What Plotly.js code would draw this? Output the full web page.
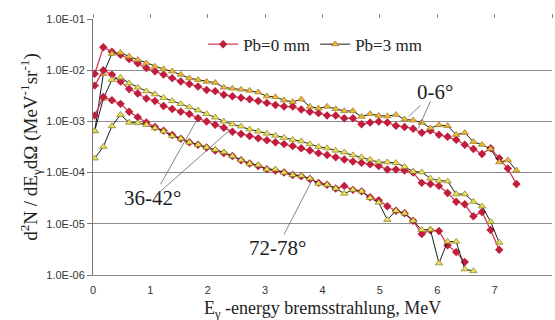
<!DOCTYPE html>
<html>
<head>
<meta charset="utf-8">
<script src="https://cdn.plot.ly/plotly-3.0.1.min.js"></script>
<style>
html,body{margin:0;padding:0;background:#fff;}
#chart{width:555px;height:320px;}
#chart text.legendtext, #chart .annotation-text, #chart text.ytitle, #chart .annotation text {
  font-family: "Liberation Serif", "Times New Roman", Tinos, "DejaVu Serif", serif !important;
}
#chart .xtick text, #chart .ytick text {
  font-family: "Liberation Sans", Arial, sans-serif !important;
}
</style>
</head>
<body>
<div id="chart"></div>
<script>
// Photon energy grid (MeV)
const energy = [0.03,0.18,0.33,0.48,0.63,0.78,0.93,1.08,1.23,1.38,1.53,1.68,1.83,1.98,2.13,2.28,2.43,2.58,2.73,2.88,3.03,3.18,3.33,3.48,3.63,3.78,3.93,4.08,4.23,4.38,4.53,4.68,4.83,4.98,5.13,5.28,5.43,5.58,5.73,5.88,6.03,6.18,6.33,6.48,6.63,6.78,6.93,7.08,7.23,7.38];

// 0-6 degrees
const pb0_a0_6 = [8.5e-3,2.8e-2,2.3e-2,2.0e-2,1.65e-2,1.37e-2,1.1e-2,9.5e-3,8.2e-3,7.0e-3,6.0e-3,5.4e-3,4.8e-3,4.1e-3,3.9e-3,3.3e-3,3.1e-3,2.9e-3,2.7e-3,2.5e-3,2.3e-3,2.1e-3,1.95e-3,1.95e-3,1.7e-3,1.55e-3,1.45e-3,1.3e-3,1.3e-3,1.15e-3,1.15e-3,8.8e-4,9.5e-4,1.0e-3,9.5e-4,8.2e-4,7.8e-4,7.2e-4,6.0e-4,6.6e-4,5.5e-4,5.0e-4,4.4e-4,3.5e-4,2.9e-4,2.3e-4,3.0e-4,1.9e-4,1.2e-4,6.0e-5];
const pb3_a0_6 = [6.5e-4,8.5e-3,2.1e-2,2.2e-2,1.85e-2,1.6e-2,1.37e-2,1.18e-2,1.05e-2,9.5e-3,8.2e-3,7.0e-3,6.5e-3,6.0e-3,5.7e-3,4.6e-3,4.4e-3,4.2e-3,4.0e-3,3.7e-3,3.1e-3,3.0e-3,2.6e-3,2.4e-3,2.7e-3,1.95e-3,1.8e-3,1.95e-3,1.75e-3,1.6e-3,1.6e-3,1.24e-3,1.4e-3,1.3e-3,1.27e-3,1.35e-3,1.1e-3,1.05e-3,9.5e-4,7.4e-4,8.5e-4,8.2e-4,5.5e-4,6.0e-4,4.0e-4,3.5e-4,2.9e-4,1.6e-4,1.75e-4,1.1e-4];

// 36-42 degrees
const pb0_a36_42 = [5.0e-3,1.0e-2,8.2e-3,6.0e-3,4.3e-3,3.5e-3,2.8e-3,2.5e-3,2.0e-3,1.75e-3,1.55e-3,1.4e-3,1.15e-3,1.0e-3,8.6e-4,7.5e-4,6.3e-4,5.7e-4,5.2e-4,4.7e-4,4.3e-4,3.9e-4,3.6e-4,3.3e-4,3.0e-4,2.7e-4,2.4e-4,2.2e-4,2.0e-4,1.8e-4,1.65e-4,1.55e-4,1.45e-4,1.35e-4,1.15e-4,1.15e-4,1.1e-4,1.0e-4,6.3e-5,6.0e-5,5.5e-5,4.0e-5,2.7e-5,2.4e-5,1.4e-5,1.7e-5,7.6e-6,3.1e-6];
const pb3_a36_42 = [6.5e-4,2.8e-3,6.5e-3,7.2e-3,5.6e-3,4.6e-3,3.9e-3,3.4e-3,2.9e-3,2.5e-3,2.2e-3,1.9e-3,1.65e-3,1.4e-3,1.2e-3,1.0e-3,8.8e-4,8.0e-4,7.0e-4,6.4e-4,5.8e-4,5.3e-4,4.8e-4,4.4e-4,4.1e-4,3.6e-4,3.2e-4,3.0e-4,2.7e-4,2.5e-4,2.2e-4,2.0e-4,1.8e-4,1.6e-4,1.6e-4,1.55e-4,1.3e-4,1.05e-4,1.02e-4,7.7e-5,7.0e-5,6.8e-5,3.8e-5,3.8e-5,2.7e-5,2.2e-5,1.1e-5,4.3e-6];

// 72-78 degrees
const pb0_a72_78 = [1.3e-3,3.0e-3,2.6e-3,2.2e-3,1.55e-3,1.2e-3,9.5e-4,7.8e-4,6.6e-4,5.4e-4,4.6e-4,3.9e-4,3.5e-4,3.1e-4,2.7e-4,2.4e-4,2.1e-4,1.75e-4,1.5e-4,1.35e-4,1.16e-4,1.1e-4,1.0e-4,9.0e-5,8.5e-5,7.5e-5,6.3e-5,5.8e-5,4.9e-5,5.5e-5,4.6e-5,4.3e-5,3.3e-5,2.9e-5,2.2e-5,1.8e-5,1.6e-5,1.15e-5,6.3e-6,7.5e-6,7.2e-6,3.8e-6,2.8e-6,1.8e-6];
const pb3_a72_78 = [1.9e-4,3.2e-4,8.1e-4,1.35e-3,9.5e-4,9.3e-4,8.6e-4,7.4e-4,6.4e-4,5.2e-4,4.6e-4,3.9e-4,3.5e-4,3.1e-4,2.8e-4,2.5e-4,2.1e-4,1.75e-4,1.5e-4,1.4e-4,1.16e-4,1.16e-4,1.0e-4,9.0e-5,8.7e-5,7.7e-5,6.1e-5,5.8e-5,4.9e-5,3.9e-5,4.6e-5,4.3e-5,3.2e-5,2.6e-5,1.2e-5,1.8e-5,1.6e-5,1.15e-5,7.6e-6,7.7e-6,1.7e-6,4.5e-6,4.5e-6,1.3e-6,1.2e-6];

const seriesNames = ["Pb=0 mm", "Pb=3 mm"];
const angleLabels = ["0-6°", "36-42°", "72-78°"];
const xTitle = 'E<sub>γ</sub> -energy bremsstrahlung, MeV';
const yTitle = 'd<sup>2</sup>N / dE<sub>γ</sub>dΩ (MeV<sup>-1</sup>sr<sup>-1</sup>)';
const yTickVals = [1e-6,1e-5,1e-4,1e-3,1e-2,1e-1];
const yTickText = ["1.0E-06","1.0E-05","1.0E-04","1.0E-03","1.0E-02","1.0E-01"];
const xTickVals = [0,1,2,3,4,5,6,7,8];

const RED = '#c01e3c', REDLINE = '#d23b58';
function pb0(y, show){
  return {x: energy, y: y, type:'scatter', mode:'lines+markers', name: seriesNames[0], showlegend: show,
    line:{color:REDLINE, width:1.3}, marker:{symbol:'diamond', size:6.5, color:RED, line:{width:0}}};
}
function pb3(y, show, fill, xa){
  return {x: energy, y: y, type:'scatter', mode:'lines+markers', name: seriesNames[1], showlegend: show, xaxis: xa || 'x',
    line:{color:'#1a1a1a', width:1}, marker:{symbol:'triangle-up', size:6.5, color:fill, line:{color:'#8a7a20', width:0.7}}};
}
const traces = [
  pb0(pb0_a0_6, true), pb3(pb3_a0_6, true, '#f4b43c'),
  pb0(pb0_a36_42, false), pb3(pb3_a36_42, false, '#e6e05a'),
  pb0(pb0_a72_78, false), pb3(pb3_a72_78, false, '#e6e05a', 'x2')
];

const serif = 'Liberation Serif';
const sans = 'Liberation Sans';
const annFont = {family: serif, size: 21, color:'#222'};
const arrow = {showarrow:true, arrowhead:0, arrowwidth:0.8, arrowcolor:'#666', font:annFont};

const layout = {
  width:555, height:320,
  margin:{l:93, r:3, t:19, b:45},
  paper_bgcolor:'#fff', plot_bgcolor:'#fff',
  font:{family:serif},
  showlegend:true,
  legend:{orientation:'h', x:0.24, xanchor:'left', y:0.9, yanchor:'middle', font:{family:serif, size:17, color:'#222'}, bgcolor:'rgba(0,0,0,0)', entrywidth:67, entrywidthmode:'pixels'},
  xaxis:{range:[0,8], tickvals:xTickVals, showgrid:false, zeroline:false, showline:true, linecolor:'#8a8a8a', linewidth:1,
    ticks:'', ticklabelstandoff:5,
    tickfont:{family:sans, size:11, color:'#333'}},
  xaxis2:{overlaying:'x', side:'top', range:[0,8], tickvals:xTickVals, showticklabels:false, ticks:'outside', ticklen:4, tickcolor:'#888', showgrid:false, zeroline:false, showline:false},
  yaxis:{type:'log', range:[-6,-1], tickvals:yTickVals, ticktext:yTickText, showgrid:true, gridcolor:'#8c8c8c', gridwidth:1, zeroline:false,
    showline:true, linecolor:'#777', linewidth:1, ticks:'outside', ticklen:5, tickcolor:'#777',
    tickfont:{family:sans, size:11, color:'#333'},
    title:{text:yTitle, font:{family:serif, size:19, color:'#222'}}},
  annotations:[
    {xref:'paper', yref:'paper', x:0.5, y:-0.134, xanchor:'center', yanchor:'middle', showarrow:false, text:xTitle, font:{family:serif, size:18, color:'#222'}},
    Object.assign({x:5.5, y:Math.log10(1.23e-3), text:angleLabels[0], ax:26, ay:-25}, arrow),
    Object.assign({x:5.67, y:Math.log10(7.3e-4), text:' ', ax:16, ay:-36}, arrow),
    Object.assign({x:1.81, y:Math.log10(1.07e-3), text:angleLabels[1], ax:-44, ay:78}, arrow),
    Object.assign({x:2.38, y:Math.log10(6.7e-4), text:' ', ax:-77, ay:68}, arrow),
    Object.assign({x:3.82, y:Math.log10(7.2e-5), text:angleLabels[2], ax:-35, ay:68}, arrow)
  ]
};
Plotly.newPlot('chart', traces, layout, {displayModeBar:false, staticPlot:true});
</script>
</body>
</html>
